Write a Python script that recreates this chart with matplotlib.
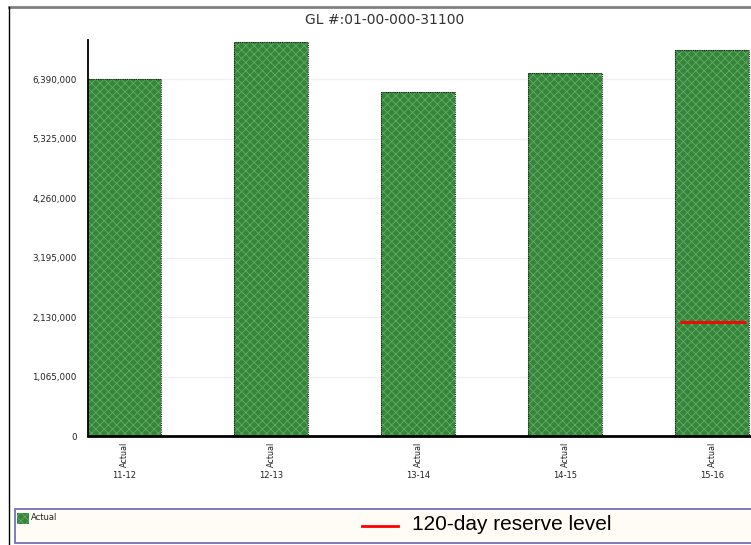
import matplotlib
matplotlib.use("Agg")
import matplotlib.pyplot as plt
from matplotlib.patches import Rectangle
from matplotlib.lines import Line2D

# data
years = ["11-12", "12-13", "13-14", "14-15", "15-16"]
actual = [6390000, 7050000, 6160000, 6500000, 6910000]
reserve_level = 2040000
yticks = [0, 1065000, 2130000, 3195000, 4260000, 5325000, 6390000]
title = "GL #:01-00-000-31100"

W, H = 751, 545
fig = plt.figure(figsize=(W / 100, H / 100), dpi=100)
fig.patch.set_facecolor("white")

ax = fig.add_axes([88 / W, 1 - 436 / H, 1 - 88 / W, (436 - 40) / H])
x = list(range(len(years)))

plt.rcParams["hatch.linewidth"] = 0.6
ax.bar(x, actual, width=0.5, color="#37843c", edgecolor="#5fae62",
       hatch="xxxx", linewidth=0, zorder=2)
ax.bar(x, actual, width=0.5, fill=False, edgecolor="#1e1e1e",
       linewidth=0.8, linestyle=(0, (1, 1)), zorder=3)

# 120-day reserve level, drawn on the last bar
ax.hlines(reserve_level, x[-1] - 0.22, x[-1] + 0.23, color="red",
          linewidth=2, zorder=4)

ax.set_xlim(-0.245, 4.265)
ax.set_ylim(0, 7090000)
ax.set_yticks(yticks)
ax.set_yticklabels([f"{v:,}" for v in yticks], fontsize=6.3, color="#222222")
ax.set_xticks(x)
ax.set_xticklabels(years, fontsize=6, color="#222222")
ax.tick_params(axis="both", length=0)
ax.tick_params(axis="x", pad=25)
ax.tick_params(axis="y", pad=8)
for xi in x:
    ax.annotate("Actual", xy=(xi, 0), xycoords=("data", "axes fraction"),
                xytext=(0, -4), textcoords="offset points", rotation=90,
                ha="center", va="top", fontsize=5.8, color="#222222")

ax.grid(axis="y", color="#f0f0f0", linewidth=1, zorder=0)
ax.set_axisbelow(True)
for s in ["top", "right"]:
    ax.spines[s].set_visible(False)
ax.spines["left"].set_linewidth(1.3)
ax.spines["bottom"].set_linewidth(2)

fig.text(385 / W, 1 - 20 / H, title, ha="center", va="center",
         fontsize=10, color="#333333")

# outer frame
fig.add_artist(Line2D([9 / W, 1], [1 - 6.5 / H, 1 - 6.5 / H], color="#808080",
                      linewidth=2))
fig.add_artist(Line2D([9 / W, 9 / W], [0, 1 - 6.5 / H], color="black",
                      linewidth=1))

# legend box
fig.add_artist(Rectangle((15 / W, 1 - 543 / H), 1 - 15 / W + 0.01, 34 / H,
                         transform=fig.transFigure, facecolor="#fffcf6",
                         edgecolor="#7471b4", linewidth=1.3))
fig.add_artist(Rectangle((17 / W, 1 - 524 / H), 12 / W, 11 / H,
                         transform=fig.transFigure, facecolor="#37843c",
                         edgecolor="#5fae62", hatch="xxxx", linewidth=0))
fig.text(31 / W, 1 - 518 / H, "Actual", ha="left", va="center", fontsize=6,
         color="#222222")
fig.add_artist(Line2D([362 / W, 398 / W], [1 - 526 / H, 1 - 526 / H],
                      color="red", linewidth=2))
fig.text(412 / W, 1 - 525 / H, "120-day reserve level", ha="left",
         va="center", fontsize=15, family="Liberation Sans", color="black")

fig.savefig("out.png", dpi=100)
